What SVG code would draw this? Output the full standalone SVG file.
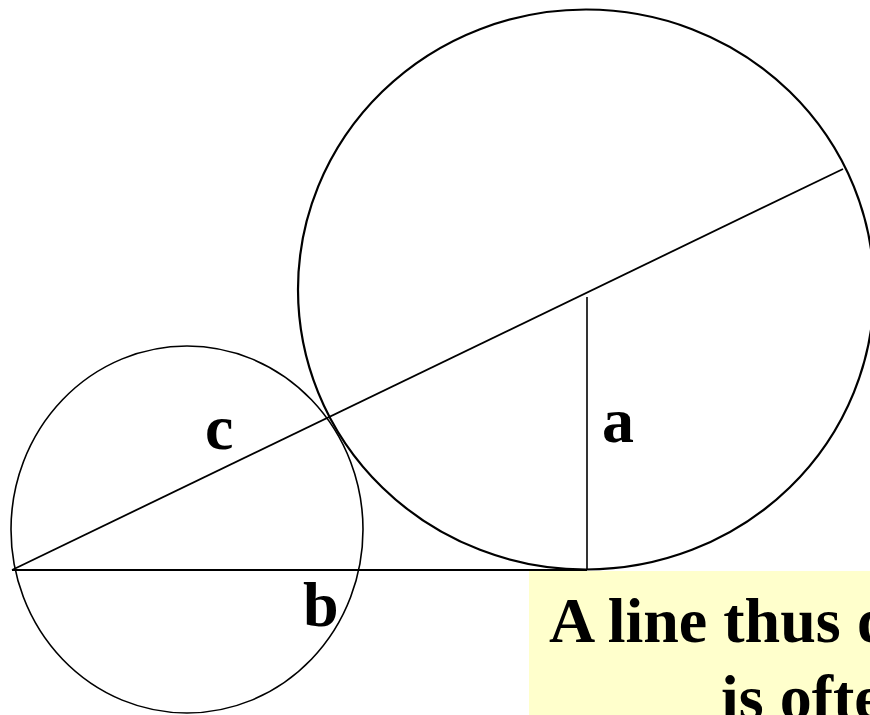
<svg xmlns="http://www.w3.org/2000/svg" width="870" height="715" viewBox="0 0 870 715">
<style>
.shape{fill:none;stroke:#000}
.lbl{font-family:"Liberation Serif","Times New Roman",serif;font-weight:bold;font-size:64px;fill:#000}
</style>
<rect width="870" height="715" fill="#fff"/>
<g id="big-circle"><ellipse class="shape" cx="586" cy="289.5" rx="288" ry="280" stroke-width="2.2"/></g>
<g id="small-circle"><ellipse class="shape" cx="187" cy="529.5" rx="176" ry="183.5" stroke-width="1.6"/></g>
<g id="connectors">
<line class="shape" x1="12" y1="570" x2="587" y2="570" stroke-width="1.8"/>
<line class="shape" x1="12" y1="570" x2="843" y2="169" stroke-width="1.8"/>
<line class="shape" x1="587" y1="297" x2="587" y2="570" stroke-width="1.6"/>
</g>
<g id="labels">
<text class="lbl" x="205" y="449">c</text>
<text class="lbl" x="602" y="442">a</text>
<text class="lbl" x="303" y="626">b</text>
</g>
<g id="note">
<rect x="529" y="571" width="341" height="144" fill="#ffffcc"/>
<text class="lbl" x="549" y="642">A line thus drawn</text>
<text class="lbl" x="721" y="719">is often</text>
</g>
</svg>
